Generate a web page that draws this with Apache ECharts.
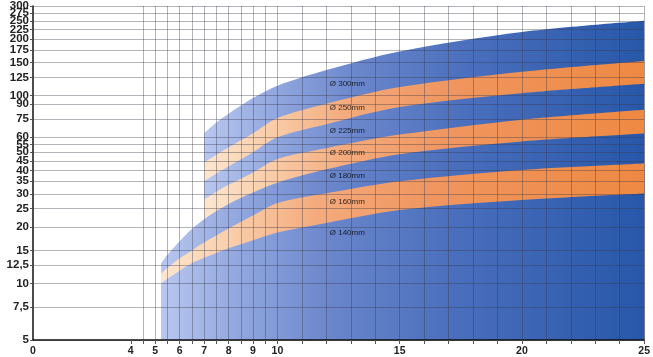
<!DOCTYPE html>
<html>
<head>
<meta charset="utf-8">
<script src="https://cdn.jsdelivr.net/npm/echarts@6/dist/echarts.min.js"></script>
<style>
html,body{margin:0;padding:0;background:#fff;}
#c{width:653px;height:357px;}
</style>
</head>
<body>
<div id="c"></div>
<script>
// ---- data ----
const yTicks = [5, 7.5, 10, 12.5, 15, 20, 25, 30, 35, 40, 45, 50, 55, 60, 75, 90, 100, 125, 150, 175, 200, 225, 250, 275, 300];
const yLabelsA = [5, 10, 15, 25, 35, 45, 55, 75, 100, 150, 200, 250, 300];
const yLabelsB = [7.5, 12.5, 20, 30, 40, 50, 60, 90, 125, 175, 225, 275];
const xTicks = [4, 4.5, 5, 5.5, 6, 6.5, 7, 7.5, 8, 8.5, 9, 9.5, 10, 11, 12, 13, 14, 15, 16, 17, 18, 19, 20, 21, 22, 23, 24, 25];
const xGrid = [4.5, 5, 5.5, 6, 6.5, 7, 7.5, 8, 8.5, 9, 9.5, 10, 11, 12, 13, 14, 15, 16, 17, 18, 19, 20, 21, 22, 23, 24, 25];
const xLabels = [0, 4, 5, 6, 7, 8, 9, 10, 15, 20, 25];

const xLower = [5.24, 5.5, 6, 6.5, 7, 8, 9, 10, 12, 15, 20, 25];
const d140 = [10.0, 10.6, 11.7, 12.8, 13.7, 15.4, 17.0, 18.7, 21.0, 24.6, 27.8, 30.1];
const d160 = [11.3, 12.1, 13.6, 15.0, 16.5, 19.6, 23.0, 26.8, 30.2, 35.0, 40.2, 43.5];
const d180 = [12.8, 14.2, 16.8, 19.5, 22.0, 26.5, 30.5, 34.4, 40.5, 48.8, 57.0, 62.8];

const xUpper = [7, 7.5, 8, 9, 10, 12, 15, 20, 25];
const d200 = [28.0, 30.8, 33.5, 39.0, 46.0, 52.5, 62.0, 74.5, 84.2];
const d225 = [35.0, 38.5, 42.0, 50.0, 60.0, 70.5, 87.0, 103.0, 115.6];
const d250 = [44.0, 48.5, 53.0, 63.0, 76.0, 90.5, 111.0, 134.0, 153.0];
const d300 = [63.0, 72.0, 80.0, 97.0, 113.0, 137.0, 172.0, 218.0, 250.0];

const bandNames = ['Ø 300mm', 'Ø 250mm', 'Ø 225mm', 'Ø 200mm', 'Ø 180mm', 'Ø 160mm', 'Ø 140mm'];
const labelX = [12.14, 12.14, 12.14, 12.14, 12.14, 12.14, 12.14];
const labelY = [116.1, 85.9, 64.6, 49.6, 37.4, 27.2, 18.6];

// ---- styles ----
function blueGrad() {
  return new echarts.graphic.LinearGradient(0, 0, 1, 0, [
    {offset: 0, color: '#b8c7ef'},
    {offset: 0.15, color: '#94a9e0'},
    {offset: 0.35, color: '#6a86cb'},
    {offset: 0.6, color: '#4a6fbd'},
    {offset: 1, color: '#2857a9'}
  ]);
}
function orangeGrad() {
  return new echarts.graphic.LinearGradient(0, 0, 1, 0, [
    {offset: 0, color: '#fde6cf'},
    {offset: 0.15, color: '#f9cda9'},
    {offset: 0.32, color: '#f4ab7d'},
    {offset: 0.55, color: '#f09660'},
    {offset: 1, color: '#ee8942'}
  ]);
}
function pairs(xs, ys) { return xs.map((x, i) => [x, ys[i]]); }
function band(name, xs, ys, grad) {
  return {
    name: name, type: 'line', data: pairs(xs, ys),
    symbol: 'none', smooth: 0.3,
    lineStyle: {width: 0}, areaStyle: {color: grad, opacity: 1, origin: 'start'},
    z: 2, silent: true, animation: false
  };
}

const gridColor = 'rgba(55,55,70,0.38)';
const fontFam = '"Liberation Sans", Arial, sans-serif';
function yLabelStyle(vals) {
  return {customValues: vals, showMinLabel: true, showMaxLabel: true,
    fontSize: 11.5, fontWeight: 'bold', color: '#222', margin: 4, fontFamily: fontFam,
    formatter: v => String(v).replace('.', ',')};
}

const chart = echarts.init(document.getElementById('c'), null, {renderer: 'canvas'});
chart.setOption({
  animation: false,
  grid: {left: 33, right: 5, top: 5, bottom: 17},
  xAxis: [{
    type: 'value', min: 0, max: 25, z: 10,
    axisLine: {show: true, lineStyle: {color: '#111', width: 1.5}},
    axisTick: {show: true, length: 4, customValues: xTicks, lineStyle: {color: '#555'}},
    axisLabel: {customValues: xLabels, fontSize: 10.5, fontWeight: 'bold', color: '#222', margin: 6, fontFamily: fontFam,
      showMinLabel: true, showMaxLabel: true},
    splitLine: {show: false}
  }, {
    type: 'value', min: 0, max: 25, position: 'bottom', z: 10,
    axisLine: {show: false},
    axisTick: {show: false, customValues: xGrid},
    axisLabel: {show: false, customValues: xGrid},
    splitLine: {show: true, lineStyle: {color: gridColor, width: 1}}
  }],
  yAxis: [{
    type: 'log', logBase: 10, min: 5, max: 300, z: 10,
    axisLine: {show: true, lineStyle: {color: '#111', width: 1.5}},
    axisTick: {show: true, length: 3, customValues: yTicks, lineStyle: {color: '#555'}},
    axisLabel: yLabelStyle(yLabelsA),
    splitLine: {show: true, lineStyle: {color: gridColor, width: 1}}
  }, {
    type: 'log', logBase: 10, min: 5, max: 300, z: 10, position: 'left',
    axisLine: {show: false},
    axisTick: {show: false, customValues: yLabelsB},
    axisLabel: yLabelStyle(yLabelsB),
    splitLine: {show: false}
  }],
  series: [
    band('Ø 300mm', xUpper, d300, blueGrad()),
    band('Ø 250mm', xUpper, d250, orangeGrad()),
    band('Ø 225mm', xUpper, d225, blueGrad()),
    band('Ø 200mm', xUpper, d200, orangeGrad()),
    band('Ø 180mm', xLower, d180, blueGrad()),
    band('Ø 160mm', xLower, d160, orangeGrad()),
    band('Ø 140mm', xLower, d140, blueGrad()),
    {
      type: 'scatter', symbolSize: 0, z: 5, silent: true,
      data: bandNames.map((n, i) => [labelX[i], labelY[i], n]),
      label: {show: true, position: 'right', distance: 0, formatter: p => p.data[2],
        fontSize: 8, color: '#000', fontFamily: fontFam}
    }
  ]
});
</script>
</body>
</html>
